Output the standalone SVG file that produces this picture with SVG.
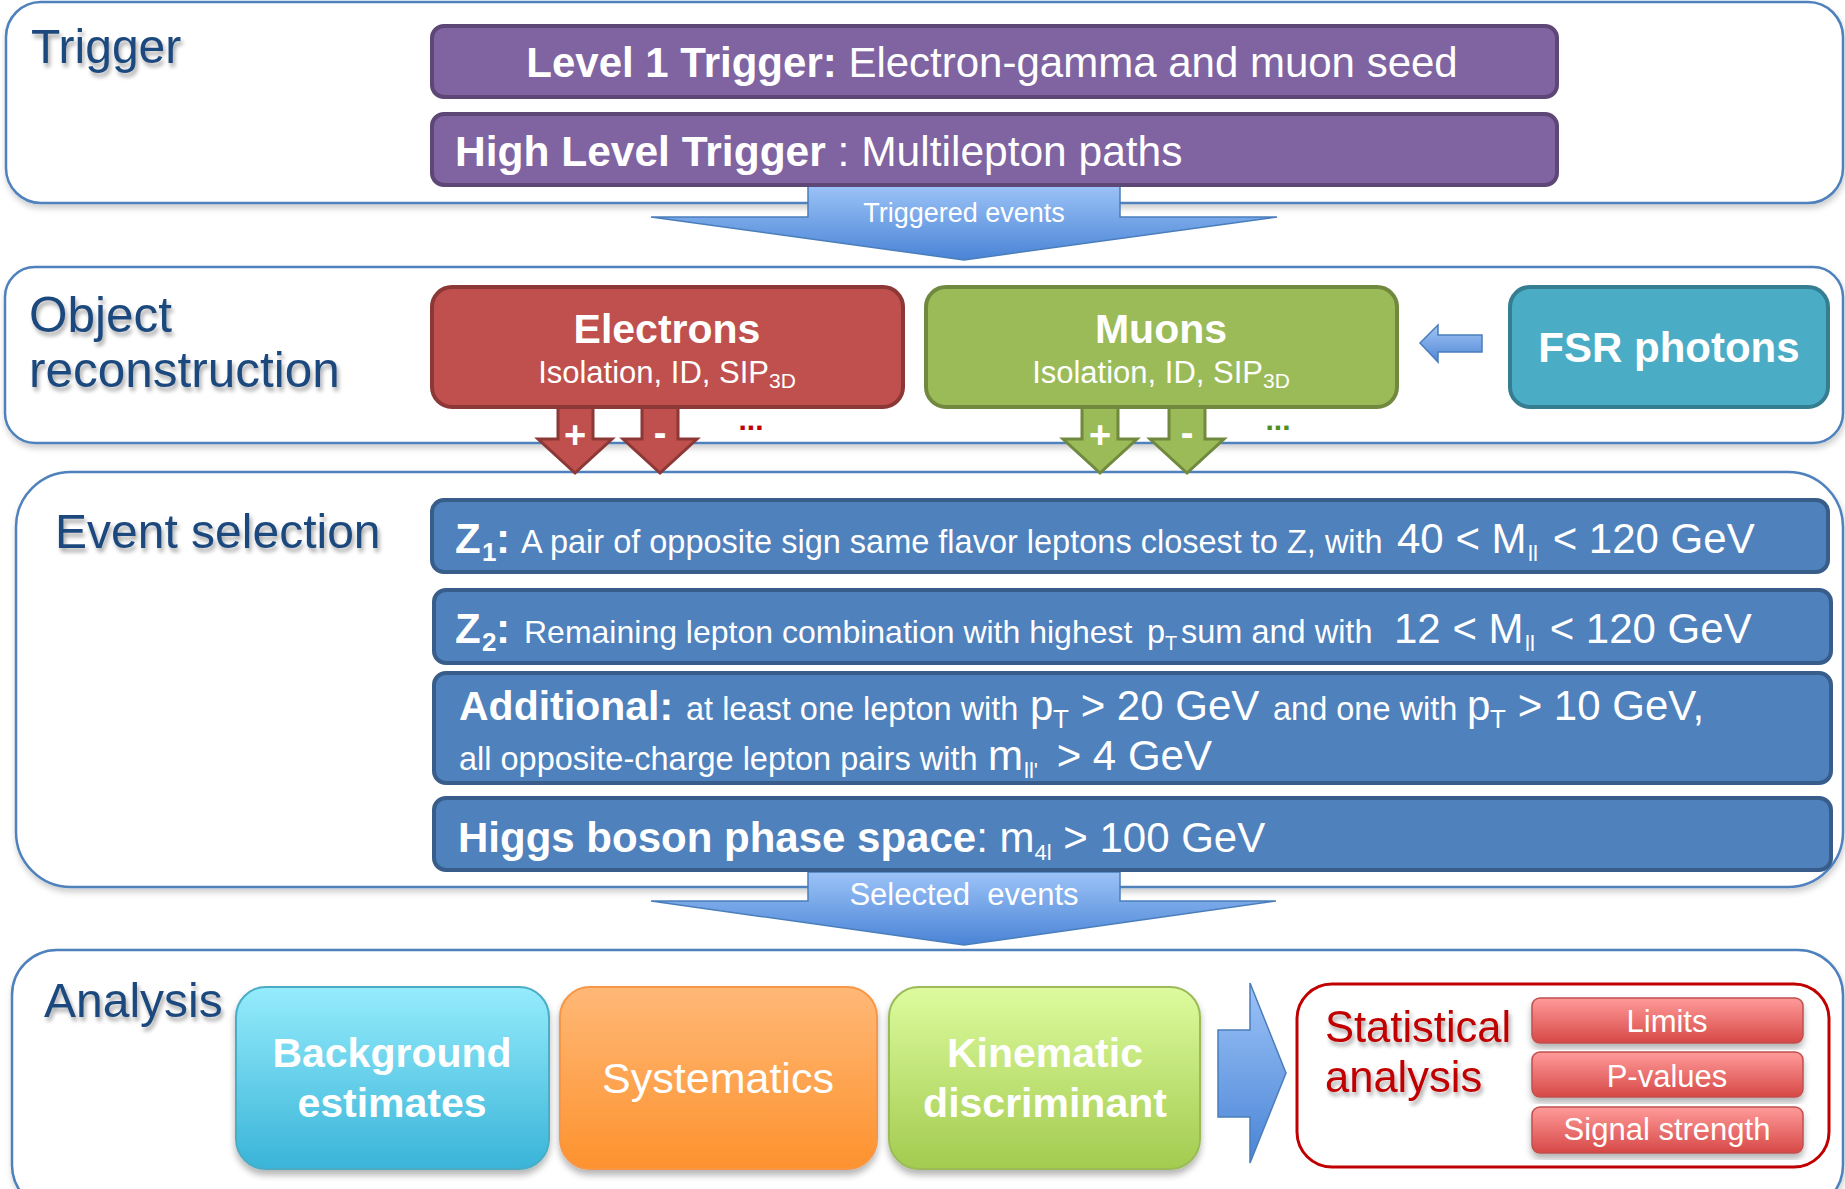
<svg xmlns="http://www.w3.org/2000/svg" width="1845" height="1189" viewBox="0 0 1845 1189">
<style>
text{font-family:"Liberation Sans",Arial,Helvetica,sans-serif}
.panel{fill:#fff;stroke:#4F81BD;stroke-width:2.5}
.label{font-size:48px;fill:#1F497D}
.purple{fill:#8064A2;stroke:#5C4776;stroke-width:4}
.blue{fill:#4F81BD;stroke:#385D8A;stroke-width:4}
.w{fill:#fff}
.b{font-weight:bold}
.sm{font-size:32.5px}
.lg{font-size:42px}
.flow{stroke:#4A7EBB;stroke-width:1.5}
.redarr{fill:#C0504D;stroke:#8C3836;stroke-width:3}
.grnarr{fill:#9BBB59;stroke:#71893F;stroke-width:3}
.statbox{stroke:#C0504D;stroke-width:1.5}
</style>
<defs>
<filter id="tsh" x="-10%" y="-30%" width="130%" height="170%">
<feGaussianBlur in="SourceAlpha" stdDeviation="2.2"/>
<feOffset dx="2" dy="4" result="o"/>
<feComponentTransfer><feFuncA type="linear" slope="0.35"/></feComponentTransfer>
<feMerge><feMergeNode/><feMergeNode in="SourceGraphic"/></feMerge>
</filter>
<filter id="bsh" x="-5%" y="-5%" width="110%" height="120%">
<feGaussianBlur in="SourceAlpha" stdDeviation="3.5"/>
<feOffset dx="0" dy="5"/>
<feComponentTransfer><feFuncA type="linear" slope="0.3"/></feComponentTransfer>
<feMerge><feMergeNode/><feMergeNode in="SourceGraphic"/></feMerge>
</filter>
<filter id="psh" x="-2%" y="-5%" width="104%" height="115%">
<feGaussianBlur in="SourceAlpha" stdDeviation="3"/>
<feOffset dx="1" dy="4"/>
<feComponentTransfer><feFuncA type="linear" slope="0.2"/></feComponentTransfer>
<feMerge><feMergeNode/><feMergeNode in="SourceGraphic"/></feMerge>
</filter>
<linearGradient id="gTrig" x1="0" y1="0" x2="0" y2="1"><stop offset="0" stop-color="#9CC3F7"/><stop offset="1" stop-color="#4A84D6"/></linearGradient>
<linearGradient id="gRight" x1="0" y1="0" x2="0" y2="1"><stop offset="0" stop-color="#9CC3F7"/><stop offset="1" stop-color="#4A84D6"/></linearGradient>
<linearGradient id="gFsr" x1="0" y1="0" x2="0" y2="1"><stop offset="0" stop-color="#A3C6F5"/><stop offset="1" stop-color="#4F86D6"/></linearGradient>
<linearGradient id="gBg" x1="0" y1="0" x2="0" y2="1"><stop offset="0" stop-color="#95ECFC"/><stop offset="1" stop-color="#3AB4D8"/></linearGradient>
<linearGradient id="gSys" x1="0" y1="0" x2="0" y2="1"><stop offset="0" stop-color="#FFB877"/><stop offset="1" stop-color="#FD922E"/></linearGradient>
<linearGradient id="gKin" x1="0" y1="0" x2="0" y2="1"><stop offset="0" stop-color="#DDFB9E"/><stop offset="1" stop-color="#A3CB4F"/></linearGradient>
<linearGradient id="gStat" x1="0" y1="0" x2="0" y2="1"><stop offset="0" stop-color="#FF9B9A"/><stop offset="1" stop-color="#D64846"/></linearGradient>
</defs>

<g id="panel-trigger">
<rect class="panel" x="6" y="2" width="1837" height="201" rx="35" filter="url(#psh)"/>
<text class="label" x="31" y="63" font-size="46" filter="url(#tsh)">Trigger</text>
</g>
<g id="panel-object">
<rect class="panel" x="5" y="267" width="1838" height="176" rx="30" filter="url(#psh)"/>
<text class="label" x="29" y="332" style="font-size:49.5px" filter="url(#tsh)">Object</text>
<text class="label" x="29" y="387" style="font-size:49.5px" filter="url(#tsh)">reconstruction</text>
</g>
<g id="panel-event">
<rect class="panel" x="16" y="472" width="1827" height="415" rx="55" filter="url(#psh)"/>
<text class="label" x="55" y="548" filter="url(#tsh)">Event selection</text>
</g>
<g id="panel-analysis">
<rect class="panel" x="12" y="950" width="1831" height="260" rx="45" filter="url(#psh)"/>
<text class="label" x="44" y="1017" filter="url(#tsh)">Analysis</text>
</g>

<g id="connectors">
<g id="triggered-events">
<path class="flow" fill="url(#gTrig)" d="M808,185 H1120 V217 H1277 L964,260 L651,217 H808 Z"/>
<text class="w" x="964" y="222" font-size="27" text-anchor="middle">Triggered events</text>
</g>
<g id="selected-events">
<path class="flow" fill="url(#gTrig)" d="M808,872 H1120 V901 H1276 L964,945 L651,901 H808 Z"/>
<text class="w" x="964" y="905" font-size="31" text-anchor="middle" xml:space="preserve">Selected  events</text>
</g>
<path class="redarr" d="M558,400 H593 V439 H612 L575,473 L538,439 H558 Z"/>
<path class="redarr" d="M642,400 H678 V439 H697 L660,473 L623,439 H642 Z"/>
<text class="w b" x="575" y="448" font-size="38" text-anchor="middle">+</text>
<text class="w b" x="660" y="446" font-size="38" text-anchor="middle">-</text>
<text x="751" y="430" font-size="30" font-weight="bold" fill="#C00000" text-anchor="middle">...</text>
<path class="grnarr" d="M1082,400 H1118 V439 H1137 L1100,473 L1063,439 H1082 Z"/>
<path class="grnarr" d="M1169,400 H1205 V439 H1224 L1187,473 L1150,439 H1169 Z"/>
<text class="w b" x="1100" y="448" font-size="38" text-anchor="middle">+</text>
<text class="w b" x="1187" y="446" font-size="38" text-anchor="middle">-</text>
<text x="1278" y="430" font-size="30" font-weight="bold" fill="#4E8F20" text-anchor="middle">...</text>
<path class="flow" fill="url(#gFsr)" d="M1420,343 L1438,325 V335 H1482 V352 H1438 V362 Z"/>
<path class="flow" fill="url(#gRight)" d="M1218,1030 H1250 V983 L1286,1073 L1250,1163 V1117 H1218 Z"/>
</g>

<g id="node-l1">
<rect class="purple" x="432" y="26" width="1125" height="71" rx="12"/>
<text class="w" x="992" y="77" font-size="42" text-anchor="middle"><tspan class="b">Level 1 Trigger:</tspan> Electron-gamma and muon seed</text>
</g>
<g id="node-hlt">
<rect class="purple" x="432" y="114" width="1125" height="71" rx="12"/>
<text class="w" x="455" y="166" font-size="42.5"><tspan class="b">High Level Trigger</tspan> : Multilepton paths</text>
</g>

<g id="node-electrons">
<rect x="432" y="287" width="471" height="120" rx="20" fill="#C0504D" stroke="#8C3836" stroke-width="4"/>
<text class="w b" x="667" y="343" font-size="41" text-anchor="middle">Electrons</text>
<text class="w" x="667" y="383" font-size="31" text-anchor="middle">Isolation, ID, SIP<tspan font-size="21" dy="5">3D</tspan></text>
</g>
<g id="node-muons">
<rect x="926" y="287" width="471" height="120" rx="20" fill="#9BBB59" stroke="#71893F" stroke-width="4"/>
<text class="w b" x="1161" y="343" font-size="41" text-anchor="middle">Muons</text>
<text class="w" x="1161" y="383" font-size="31" text-anchor="middle">Isolation, ID, SIP<tspan font-size="21" dy="5">3D</tspan></text>
</g>
<g id="node-fsr">
<rect x="1510" y="287" width="318" height="120" rx="20" fill="#4BACC6" stroke="#357D91" stroke-width="4"/>
<text class="w b" x="1669" y="362" font-size="42" text-anchor="middle">FSR photons</text>
</g>

<g id="node-z1">
<rect class="blue" x="432" y="500" width="1396" height="72" rx="12"/>
<text class="w"><tspan class="b lg" x="455" y="553">Z</tspan><tspan class="b" font-size="26" x="482" y="561">1</tspan><tspan class="b lg" x="496" y="553">:</tspan><tspan class="sm" x="521" y="553">A pair of opposite sign same flavor leptons closest to Z, with</tspan><tspan class="lg" x="1397" y="553">40 &lt; M</tspan><tspan font-size="22" x="1528" y="561">ll</tspan><tspan class="lg" x="1541" y="553"> &lt; 120 GeV</tspan></text>
</g>
<g id="node-z2">
<rect class="blue" x="434" y="590" width="1397" height="73" rx="12"/>
<text class="w"><tspan class="b lg" x="455" y="643">Z</tspan><tspan class="b" font-size="26" x="482" y="651">2</tspan><tspan class="b lg" x="496" y="643">:</tspan><tspan font-size="32" x="524" y="643">Remaining lepton combination with highest</tspan><tspan class="sm" x="1147" y="643">p</tspan><tspan font-size="20" x="1165" y="650">T</tspan><tspan class="sm" x="1181" y="643">sum and with</tspan><tspan class="lg" x="1394" y="643">12 &lt; M</tspan><tspan font-size="22" x="1525" y="651">ll</tspan><tspan class="lg" x="1538" y="643"> &lt; 120 GeV</tspan></text>
</g>
<g id="node-additional">
<rect class="blue" x="434" y="673" width="1397" height="110" rx="12"/>
<text class="w"><tspan class="b" font-size="41" x="459" y="720">Additional:</tspan><tspan class="sm" x="686" y="720">at least one lepton with</tspan><tspan class="lg" x="1030" y="720">p</tspan><tspan font-size="26" x="1053" y="728">T</tspan><tspan class="lg" x="1069" y="720"> &gt; 20 GeV</tspan><tspan class="sm" x="1273" y="720">and one with</tspan><tspan class="lg" x="1467" y="720">p</tspan><tspan font-size="26" x="1490" y="728">T</tspan><tspan class="lg" x="1506" y="720"> &gt; 10 GeV,</tspan></text>
<text class="w"><tspan class="sm" x="459" y="770">all opposite-charge lepton pairs with</tspan><tspan class="lg" x="988" y="770">m</tspan><tspan font-size="22" x="1024" y="778">ll'</tspan><tspan class="lg" x="1045" y="770"> &gt; 4 GeV</tspan></text>
</g>
<g id="node-higgs">
<rect class="blue" x="434" y="798" width="1397" height="72" rx="12"/>
<text class="w"><tspan class="b lg" x="458" y="852">Higgs boson phase space</tspan><tspan class="lg">: m</tspan><tspan font-size="22" dy="8">4l</tspan><tspan class="lg" dy="-8"> &gt; 100 GeV</tspan></text>
</g>

<g id="node-background">
<rect x="236" y="987" width="313" height="182" rx="30" fill="url(#gBg)" stroke="#4BACC6" stroke-width="2" filter="url(#bsh)"/>
<text class="w b" x="392" y="1067" font-size="41" text-anchor="middle">Background</text>
<text class="w b" x="392" y="1117" font-size="41" text-anchor="middle">estimates</text>
</g>
<g id="node-systematics">
<rect x="560" y="987" width="317" height="182" rx="30" fill="url(#gSys)" stroke="#F79646" stroke-width="2" filter="url(#bsh)"/>
<text class="w" x="718" y="1093" font-size="43" text-anchor="middle">Systematics</text>
</g>
<g id="node-kinematic">
<rect x="889" y="987" width="311" height="182" rx="30" fill="url(#gKin)" stroke="#9BBB59" stroke-width="2" filter="url(#bsh)"/>
<text class="w b" x="1045" y="1067" font-size="41" text-anchor="middle">Kinematic</text>
<text class="w b" x="1045" y="1117" font-size="41" text-anchor="middle">discriminant</text>
</g>
<g id="node-statistical">
<rect x="1297" y="984" width="532" height="183" rx="35" fill="#fff" stroke="#C00000" stroke-width="3"/>
<text x="1325" y="1042" font-size="43.5" fill="#C00000" filter="url(#tsh)">Statistical</text>
<text x="1325" y="1092" font-size="43.5" fill="#C00000" filter="url(#tsh)">analysis</text>
</g>
<g id="node-limits">
<rect class="statbox" x="1532" y="998" width="271" height="45" rx="8" fill="url(#gStat)" filter="url(#bsh)"/>
<text class="w" x="1667" y="1032" font-size="31" text-anchor="middle">Limits</text>
</g>
<g id="node-pvalues">
<rect class="statbox" x="1532" y="1052" width="271" height="45" rx="8" fill="url(#gStat)" filter="url(#bsh)"/>
<text class="w" x="1667" y="1087" font-size="31" text-anchor="middle">P-values</text>
</g>
<g id="node-signal">
<rect class="statbox" x="1532" y="1107" width="271" height="46" rx="8" fill="url(#gStat)" filter="url(#bsh)"/>
<text class="w" x="1667" y="1140" font-size="31" text-anchor="middle">Signal strength</text>
</g>
</svg>
